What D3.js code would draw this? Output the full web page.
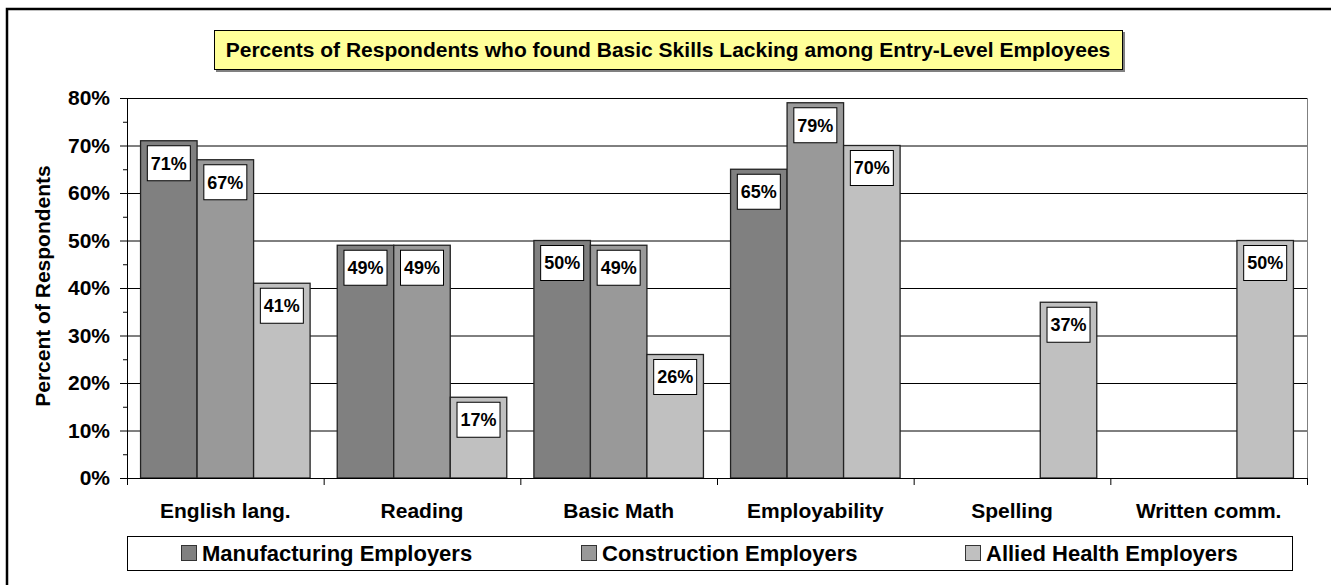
<!DOCTYPE html>
<html>
<head>
<meta charset="utf-8">
<script src="https://cdn.jsdelivr.net/npm/d3@7"></script>
<style>
  body { margin: 0; background: #fff; }
  svg { display: block; font-family: "Liberation Sans", Arial, sans-serif; font-weight: bold; }
</style>
</head>
<body>
<svg id="chart"></svg>
<script>
// chart data
var categories = ["English lang.", "Reading", "Basic Math", "Employability", "Spelling", "Written comm."];
var seriesNames = ["Manufacturing Employers", "Construction Employers", "Allied Health Employers"];
var manufacturing = [71, 49, 50, 65, null, null];
var construction = [67, 49, 49, 79, null, null];
var alliedHealth = [41, 17, 26, 70, 37, 50];
var yTicks = [0, 10, 20, 30, 40, 50, 60, 70, 80];
var titleText = "Percents of Respondents who found Basic Skills Lacking among Entry-Level Employees";
var yLabel = "Percent of Respondents";

var colors = ["#808080", "#999999", "#c0c0c0"];

var svgWidth = 1331, svgHeight = 585;
var plot = {left: 127, right: 1307, top: 98, bottom: 478};

var svg = d3.select('#chart')
    .attr('width', svgWidth)
    .attr('height', svgHeight);

// outer frame (only left/top edges fall inside the picture)
svg.append('rect')
    .attr('x', 7).attr('y', 9)
    .attr('width', 1400).attr('height', 700)
    .attr('fill', 'none')
    .attr('stroke', '#000')
    .attr('stroke-width', 2.5);

var x0 = d3.scaleBand()
    .domain(categories)
    .range([plot.left, plot.right]);

var x1 = d3.scaleBand()
    .domain(seriesNames)
    .range([0, x0.bandwidth()])
    .paddingOuter(0.24);

var y = d3.scaleLinear()
    .domain([0, 80])
    .range([plot.bottom, plot.top]);

// gridlines
svg.append('g')
    .selectAll('line')
    .data(yTicks.filter(function(d){ return d > 0; }))
    .enter().append('line')
    .attr('x1', plot.left).attr('x2', plot.right)
    .attr('y1', function(d){ return y(d) + 0.5; })
    .attr('y2', function(d){ return y(d) + 0.5; })
    .attr('stroke', '#000')
    .attr('stroke-width', 1);

// right edge of plot area
svg.append('line')
    .attr('x1', plot.right + 0.5).attr('x2', plot.right + 0.5)
    .attr('y1', plot.top).attr('y2', plot.bottom)
    .attr('stroke', '#808080');

// bars
var rows = categories.map(function(c, i){
    return {cat: c, values: [manufacturing[i], construction[i], alliedHealth[i]]};
});

var groups = svg.append('g')
    .selectAll('g')
    .data(rows)
    .enter().append('g')
    .attr('transform', function(d){ return 'translate(' + x0(d.cat) + ',0)'; });

var bars = groups.selectAll('g')
    .data(function(d){
        return d.values.map(function(v, j){ return {name: seriesNames[j], value: v, idx: j}; })
            .filter(function(e){ return e.value != null; });
    })
    .enter().append('g');

bars.append('rect')
    .attr('x', function(d){ return x1(d.name); })
    .attr('y', function(d){ return y(d.value); })
    .attr('width', x1.bandwidth())
    .attr('height', function(d){ return y(0) - y(d.value); })
    .attr('fill', function(d){ return colors[d.idx]; })
    .attr('stroke', '#222')
    .attr('stroke-width', 1.3);

// value label boxes
var boxW = 43, boxH = 35;
bars.append('rect')
    .attr('x', function(d){ return x1(d.name) + x1.bandwidth() / 2 - boxW / 2; })
    .attr('y', function(d){ return y(d.value) + 5; })
    .attr('width', boxW)
    .attr('height', boxH)
    .attr('fill', '#fff')
    .attr('stroke', '#000')
    .attr('stroke-width', 1);

bars.append('text')
    .attr('x', function(d){ return x1(d.name) + x1.bandwidth() / 2; })
    .attr('y', function(d){ return y(d.value) + 5 + boxH / 2; })
    .attr('dy', '0.35em')
    .attr('text-anchor', 'middle')
    .attr('font-size', 18)
    .text(function(d){ return d.value + '%'; });

// y axis
var yAxis = svg.append('g');
yAxis.append('line')
    .attr('x1', plot.left + 0.5).attr('x2', plot.left + 0.5)
    .attr('y1', plot.top).attr('y2', plot.bottom)
    .attr('stroke', '#000');

yAxis.selectAll('.major')
    .data(yTicks)
    .enter().append('line')
    .attr('x1', plot.left - 7).attr('x2', plot.left)
    .attr('y1', function(d){ return y(d) + 0.5; })
    .attr('y2', function(d){ return y(d) + 0.5; })
    .attr('stroke', '#000');

yAxis.selectAll('.minor')
    .data(yTicks.slice(1))
    .enter().append('line')
    .attr('x1', plot.left - 4).attr('x2', plot.left)
    .attr('y1', function(d){ return y(d - 5) + 0.5; })
    .attr('y2', function(d){ return y(d - 5) + 0.5; })
    .attr('stroke', '#000');

yAxis.selectAll('text')
    .data(yTicks)
    .enter().append('text')
    .attr('x', 110)
    .attr('y', function(d){ return y(d); })
    .attr('dy', '0.35em')
    .attr('text-anchor', 'end')
    .attr('font-size', 21)
    .text(function(d){ return d + '%'; });

svg.append('text')
    .attr('transform', 'translate(50,286) rotate(-90)')
    .attr('text-anchor', 'middle')
    .attr('font-size', 21)
    .text(yLabel);

// x axis
var xAxis = svg.append('g');
xAxis.append('line')
    .attr('x1', plot.left).attr('x2', plot.right)
    .attr('y1', plot.bottom + 0.5).attr('y2', plot.bottom + 0.5)
    .attr('stroke', '#000');

xAxis.selectAll('.tick')
    .data(categories.concat([null]))
    .enter().append('line')
    .attr('x1', function(d){ return (d == null ? plot.right : x0(d)) + 0.5; })
    .attr('x2', function(d){ return (d == null ? plot.right : x0(d)) + 0.5; })
    .attr('y1', plot.bottom).attr('y2', plot.bottom + 7)
    .attr('stroke', '#000');

xAxis.selectAll('text')
    .data(categories)
    .enter().append('text')
    .attr('x', function(d){ return x0(d) + x0.bandwidth() / 2; })
    .attr('y', 518)
    .attr('text-anchor', 'middle')
    .attr('font-size', 21)
    .text(function(d){ return d; });

// title box
var title = svg.append('g');
title.append('rect')
    .attr('x', 216).attr('y', 32)
    .attr('width', 909).attr('height', 40)
    .attr('fill', '#808080');
title.append('rect')
    .attr('x', 214.5).attr('y', 30.5)
    .attr('width', 908).attr('height', 39)
    .attr('fill', '#ffff99')
    .attr('stroke', '#000')
    .attr('stroke-width', 1);
title.append('text')
    .attr('x', 668).attr('y', 50)
    .attr('dy', '0.35em')
    .attr('text-anchor', 'middle')
    .attr('font-size', 21)
    .text(titleText);

// legend
var legend = {left: 127, right: 1292, top: 536, bottom: 570};
svg.append('rect')
    .attr('x', legend.left + 0.5).attr('y', legend.top + 0.5)
    .attr('width', legend.right - legend.left).attr('height', legend.bottom - legend.top)
    .attr('fill', '#fff')
    .attr('stroke', '#000');

var entries = svg.append('g')
    .selectAll('g')
    .data(seriesNames)
    .enter().append('g');

entries.append('text')
    .attr('x', 21)
    .attr('y', (legend.top + legend.bottom) / 2)
    .attr('dy', '0.35em')
    .attr('font-size', 22)
    .text(function(d){ return d; });

entries.append('rect')
    .attr('x', 0.5)
    .attr('y', (legend.top + legend.bottom) / 2 - 7.5)
    .attr('width', 15).attr('height', 15)
    .attr('fill', function(d, i){ return colors[i]; })
    .attr('stroke', '#333');

var widths = [];
entries.each(function(){ widths.push(this.getBBox().width); });
var gap = (legend.right - legend.left - d3.sum(widths)) / 3;
var cx = legend.left + gap / 2;
entries.attr('transform', function(d, i){
    var t = 'translate(' + Math.round(cx) + ',0)';
    cx += widths[i] + gap;
    return t;
});
</script>
</body>
</html>
